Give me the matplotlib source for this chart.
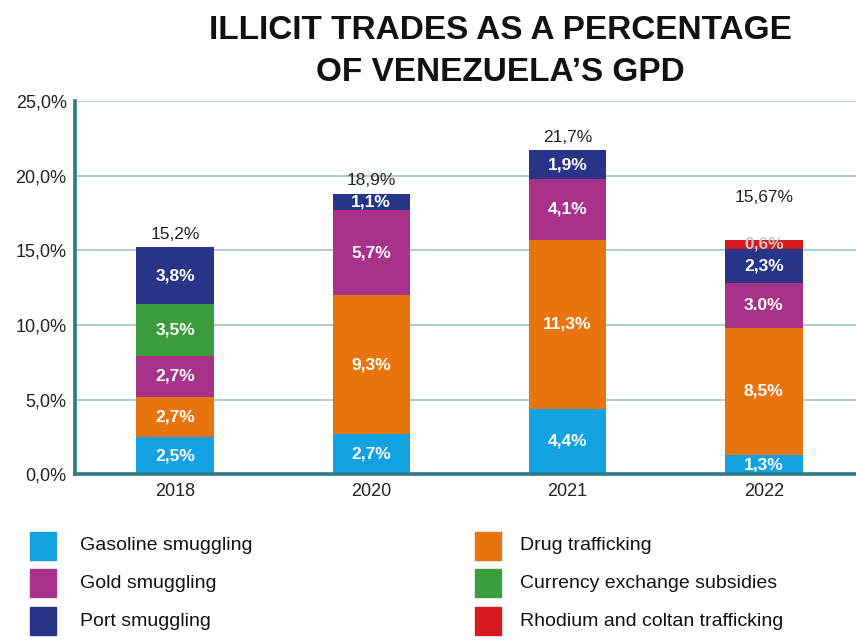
"""Stacked bar chart: illicit trades as a share of Venezuela's GDP."""
import matplotlib

matplotlib.use("Agg")
import matplotlib.pyplot as plt  # noqa: E402
import numpy as np  # noqa: E402
from matplotlib.patches import Rectangle  # noqa: E402

years = ["2018", "2020", "2021", "2022"]
series = ["Gasoline smuggling", "Drug trafficking", "Gold smuggling",
          "Currency exchange subsidies", "Port smuggling",
          "Rhodium and coltan trafficking"]
gasoline = [2.5, 2.7, 4.4, 1.3]
drug = [2.7, 9.3, 11.3, 8.5]
gold = [2.7, 5.7, 4.1, 3.0]
currency = [3.5, 0.0, 0.0, 0.0]
port = [3.8, 1.1, 1.9, 2.3]
rhodium = [0.0, 0.0, 0.0, 0.6]
seg_labels = [
    ["2,5%", "2,7%", "4,4%", "1,3%"],
    ["2,7%", "9,3%", "11,3%", "8,5%"],
    ["2,7%", "5,7%", "4,1%", "3.0%"],
    ["3,5%", "", "", ""],
    ["3,8%", "1,1%", "1,9%", "2,3%"],
    ["", "", "", "0,6%"],
]
totals = ["15,2%", "18,9%", "21,7%", "15,67%"]
yticks = [0, 5, 10, 15, 20, 25]
ytick_labels = ["0,0%", "5,0%", "10,0%", "15,0%", "20,0%", "25,0%"]

colors = ["#12a2e2", "#e8740f", "#a8318a", "#3a9c3c", "#283487", "#d51a1e"]
C_AXIS = "#2b7a8a"
C_GRID = "#a9c6cf"

plt.rcParams["font.family"] = ["Liberation Sans", "DejaVu Sans"]

fig = plt.figure(figsize=(8.56, 6.4), dpi=100)
ax = fig.add_axes([0.0876, 0.259, 0.9124, 0.583])

data = [gasoline, drug, gold, currency, port, rhodium]
x = np.arange(len(years))
bottom = np.zeros(len(years))
for i, vals in enumerate(data):
    vals = np.array(vals)
    ax.bar(x, vals, bottom=bottom, width=0.395, color=colors[i], zorder=3)
    for j, v in enumerate(vals):
        lab = seg_labels[i][j]
        if v <= 0 or not lab:
            continue
        tcol = "#c9c9c9" if i == 5 else "white"
        ax.text(x[j], bottom[j] + v / 2, lab, ha="center", va="center",
                color=tcol, fontsize=12.5, fontweight="bold", zorder=4)
    bottom = bottom + vals

for j, t in enumerate(totals):
    off = 25 if j == 3 else 4
    ax.annotate(t, (x[j], bottom[j]), xytext=(0, off), textcoords="offset points",
                ha="center", va="bottom", fontsize=12.5, color="#222222")

ax.set_xlim(-0.51, 3.47)
ax.set_ylim(0, 25)
ax.set_yticks(yticks)
ax.set_yticklabels(ytick_labels, fontsize=13, color="#222222")
ax.set_xticks(x)
ax.set_xticklabels(years, fontsize=13, color="#222222")
ax.tick_params(length=0, pad=6)
ax.grid(axis="y", color=C_GRID, linewidth=1.3, zorder=0)
for s in ["top", "right"]:
    ax.spines[s].set_visible(False)
for s in ["left", "bottom"]:
    ax.spines[s].set_color(C_AXIS)
    ax.spines[s].set_linewidth(2.6)
    ax.spines[s].set_zorder(5)

fig.text(0.585, 0.952, "ILLICIT TRADES AS A PERCENTAGE", ha="center", va="center",
         fontsize=24, fontweight="bold", color="#111111")
fig.text(0.585, 0.886, "OF VENEZUELA\u2019S GPD", ha="center", va="center",
         fontsize=24, fontweight="bold", color="#111111")

# legend in two columns
rows_y = [546, 583, 621]
cols = [(30, 80), (475, 520)]
order = [0, 2, 4, 1, 3, 5]
for k, idx in enumerate(order):
    c = k // 3
    r = k % 3
    sx, tx = cols[c]
    cy = rows_y[r]
    fig.patches.append(Rectangle((sx / 856, 1 - (cy + 14) / 640), 26 / 856, 28 / 640,
                                 transform=fig.transFigure, color=colors[idx]))
    fig.text(tx / 856, 1 - cy / 640, series[idx], ha="left", va="center",
             fontsize=14, color="#111111")

fig.savefig("out.png", dpi=100)
